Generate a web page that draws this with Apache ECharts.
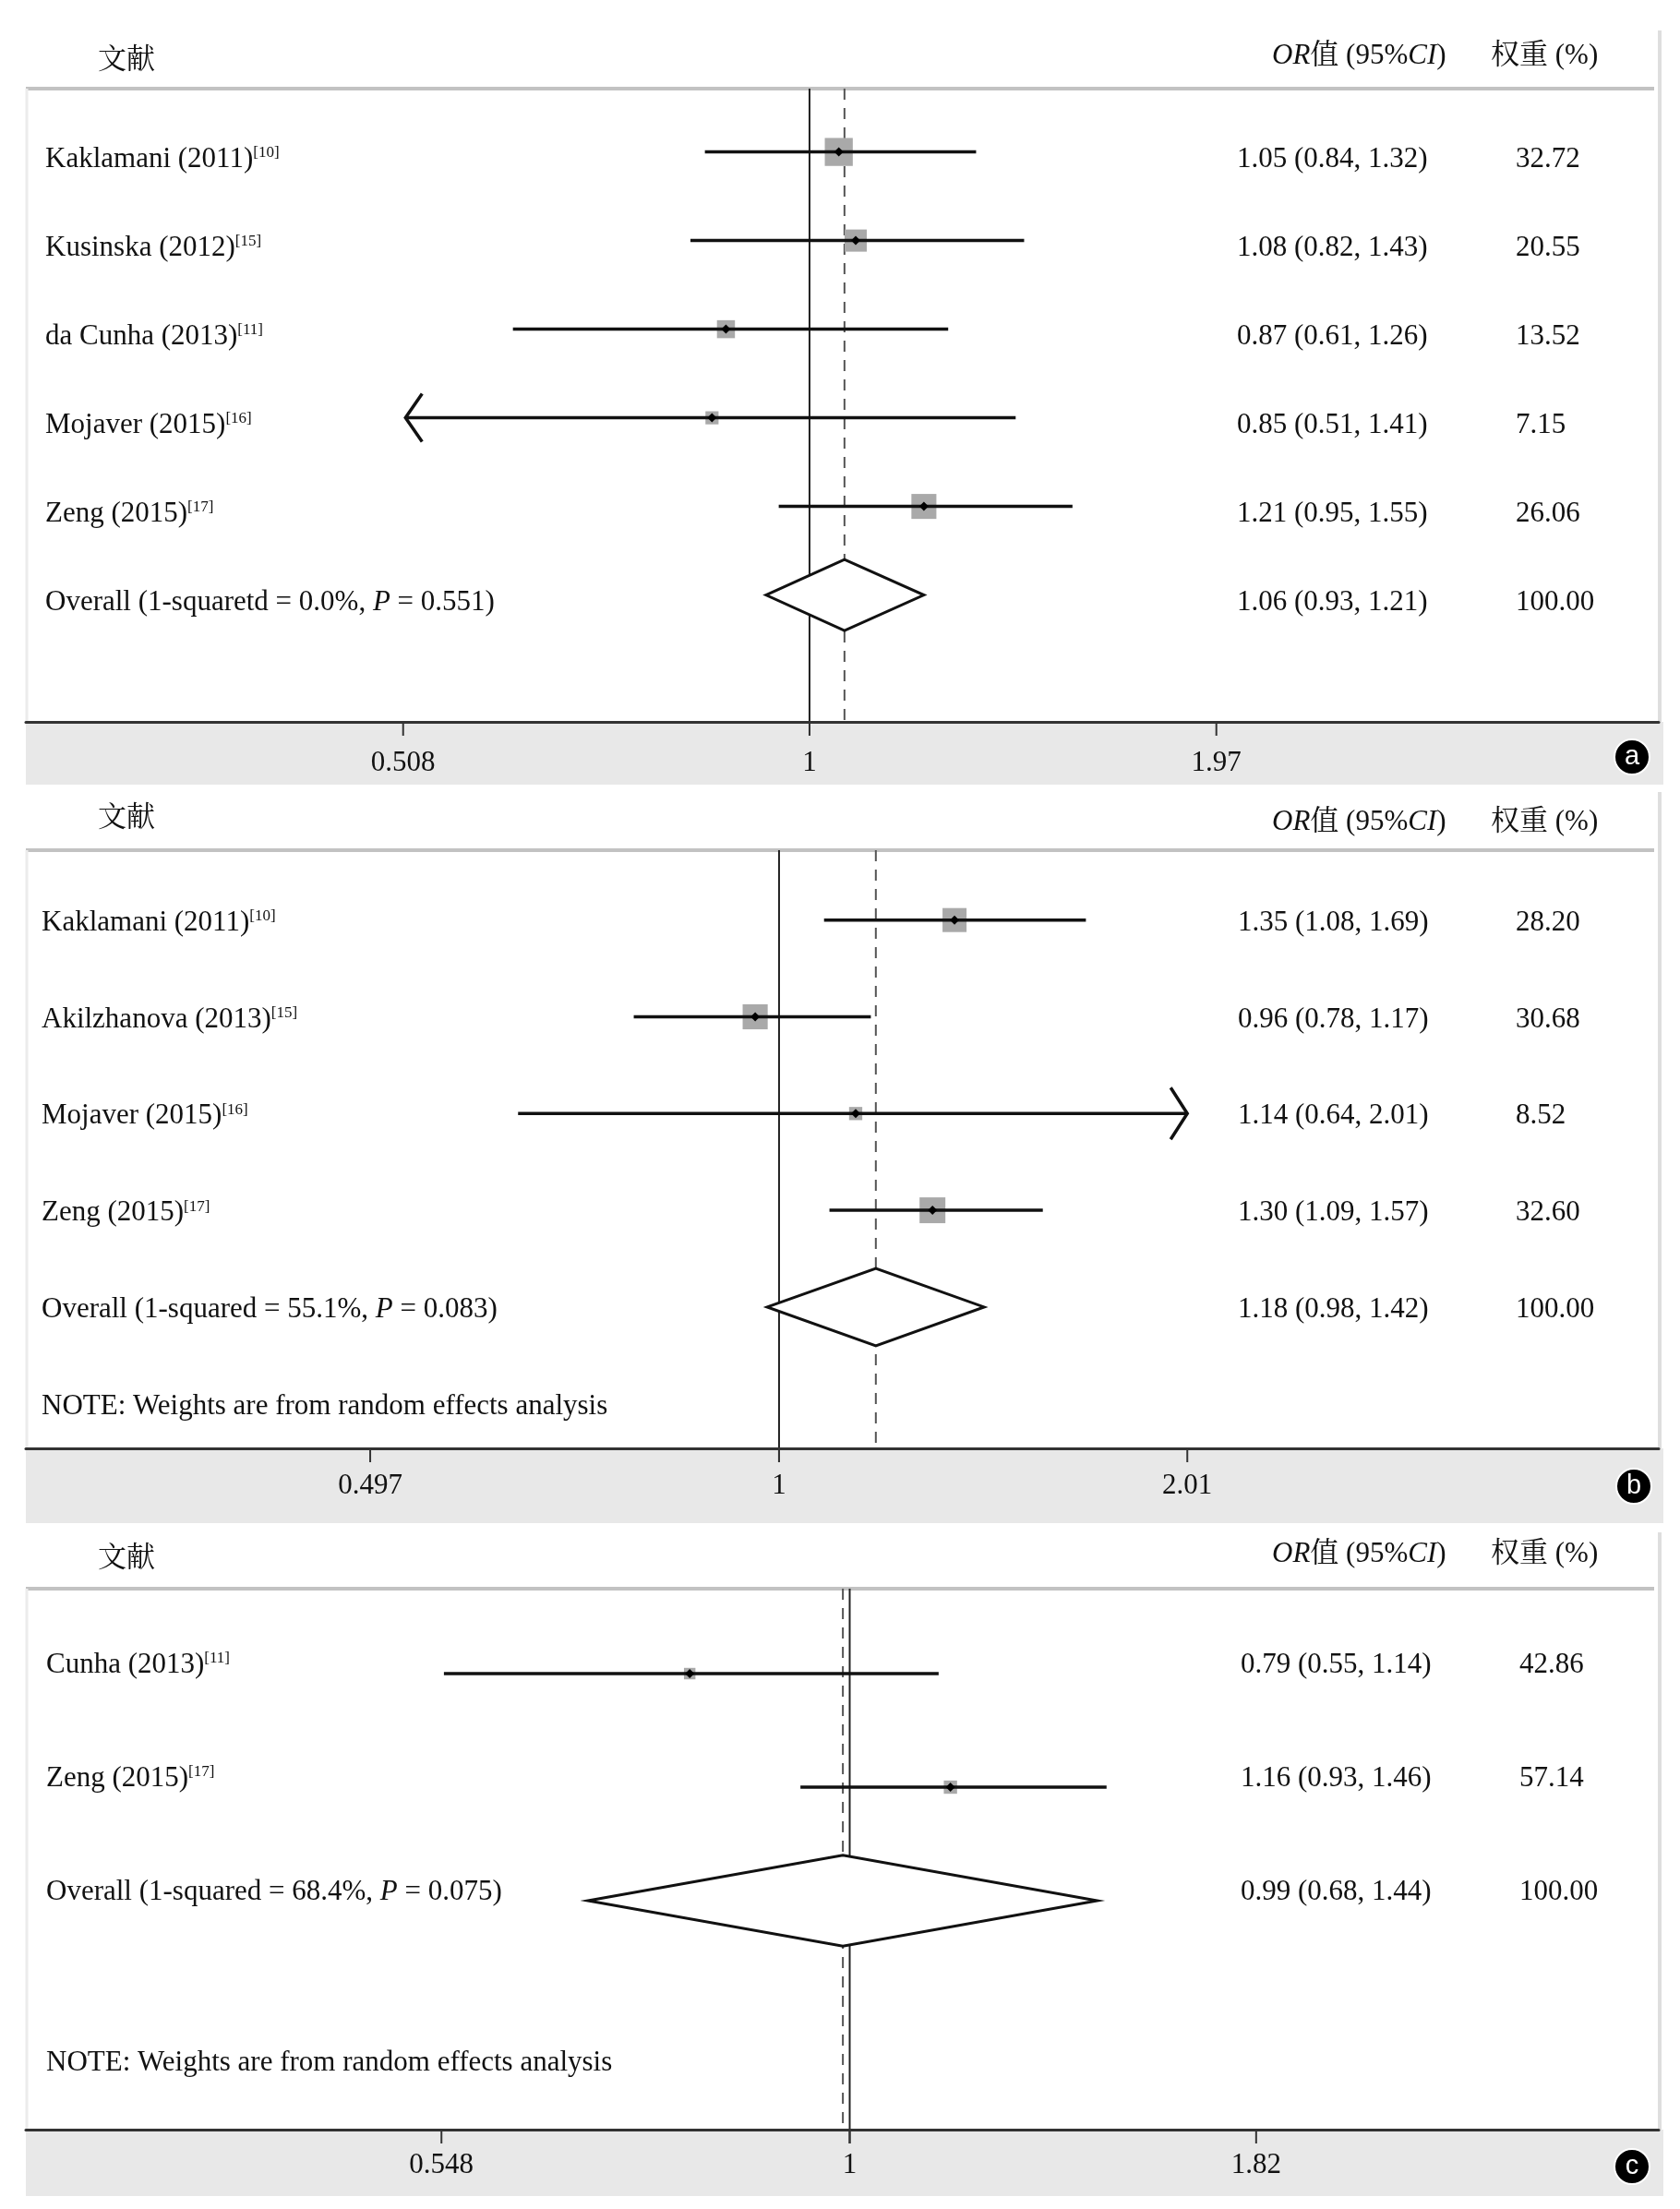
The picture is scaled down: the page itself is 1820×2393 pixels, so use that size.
<!DOCTYPE html>
<html>
<head>
<meta charset="utf-8">
<script src="https://cdn.jsdelivr.net/npm/echarts@6/dist/echarts.min.js"></script>
<style>html,body{margin:0;padding:0;background:#fff}#c{width:1820px;height:2393px}</style>
</head>
<body>
<div id="c"></div>
<script>
// ---------- Panel a ----------
const studiesA = ['Kaklamani (2011)', 'Kusinska (2012)', 'da Cunha (2013)', 'Mojaver (2015)', 'Zeng (2015)'];
const refsA = ['[10]', '[15]', '[11]', '[16]', '[17]'];
const orA = [1.05, 1.08, 0.87, 0.85, 1.21];
const loA = [0.84, 0.82, 0.61, 0.51, 0.95];
const hiA = [1.32, 1.43, 1.26, 1.41, 1.55];
const weightA = [32.72, 20.55, 13.52, 7.15, 26.06];
const arrowA = ['', '', '', 'left', ''];
const overallA = [1.06, 0.93, 1.21, 100.00];
const overallLabelA = 'Overall (1-squaretd = 0.0%, {i|P} = 0.551)';
const ticksA = [0.508, 1, 1.97];

// ---------- Panel b ----------
const studiesB = ['Kaklamani (2011)', 'Akilzhanova (2013)', 'Mojaver (2015)', 'Zeng (2015)'];
const refsB = ['[10]', '[15]', '[16]', '[17]'];
const orB = [1.35, 0.96, 1.14, 1.30];
const loB = [1.08, 0.78, 0.64, 1.09];
const hiB = [1.69, 1.17, 2.01, 1.57];
const weightB = [28.20, 30.68, 8.52, 32.60];
const arrowB = ['', '', 'right', ''];
const overallB = [1.18, 0.98, 1.42, 100.00];
const overallLabelB = 'Overall (1-squared = 55.1%, {i|P} = 0.083)';
const ticksB = [0.497, 1, 2.01];

// ---------- Panel c ----------
const studiesC = ['Cunha (2013)', 'Zeng (2015)'];
const refsC = ['[11]', '[17]'];
const orC = [0.79, 1.16];
const loC = [0.55, 0.93];
const hiC = [1.14, 1.46];
const weightC = [42.86, 57.14];
const arrowC = ['', ''];
const overallC = [0.99, 0.68, 1.44, 100.00];
const overallLabelC = 'Overall (1-squared = 68.4%, {i|P} = 0.075)';
const ticksC = [0.548, 1, 1.82];

const noteText = 'NOTE: Weights are from random effects analysis';
const headerLeft = '文献';
const headerOR = '{i|OR}值 (95%{i|CI})';
const headerW = '权重 (%)';

const panelsData = [
  {studies: studiesA, refs: refsA, or: orA, lo: loA, hi: hiA, w: weightA, arrow: arrowA, overall: overallA, overallLabel: overallLabelA, ticks: ticksA, note: false},
  {studies: studiesB, refs: refsB, or: orB, lo: loB, hi: hiB, w: weightB, arrow: arrowB, overall: overallB, overallLabel: overallLabelB, ticks: ticksB, note: true},
  {studies: studiesC, refs: refsC, or: orC, lo: loC, hi: hiC, w: weightC, arrow: arrowC, overall: overallC, overallLabel: overallLabelC, ticks: ticksC, note: true}
];

// layout (positions / styles only)
const layout = [
  {top: 96, axisY: 782, xMin: 0.27088, xMax: 4.1181, yMin: -0.7146, yMax: 6.431, dy: 8, labelX: 49, valX: 1340, wX: 1642, boxK: 5.3, hdrY: 66, hdrOrY: 61, borderTop: 33, bandBottom: 850, tickDy: 45, circle: [1768, 820], letter: 'a', noteRow: 0},
  {top: 921, axisY: 1569, xMin: 0.27582, xMax: 4.5013, yMin: -0.7223, yMax: 5.461, dy: 3, labelX: 45, valX: 1341, wX: 1642, boxK: 4.9, hdrY: 887, hdrOrY: 891, borderTop: 858, bandBottom: 1650, tickDy: 41, circle: [1770, 1610], letter: 'b', noteRow: 5},
  {top: 1721, axisY: 2307, xMin: 0.29707, xMax: 3.2937, yMin: -0.748, yMax: 4.016, dy: -9, labelX: 50, valX: 1344, wX: 1646, boxK: 1.9, hdrY: 1689, hdrOrY: 1684, borderTop: 1660, bandBottom: 2379, tickDy: 39, circle: [1768, 2347], letter: 'c', noteRow: 3.5}
];

const FONT = '"Liberation Serif", "Times New Roman", "Noto Serif CJK SC", "Noto Sans CJK SC", serif';
const FS = 31;
const INK = '#111';
const RICH = {
  sup: {fontSize: 17, fontFamily: FONT, fill: INK, color: INK, verticalAlign: 'top', lineHeight: 20},
  i: {fontSize: FS, fontFamily: FONT, fontStyle: 'italic', fill: INK, color: INK}
};
function txtStyle(text, align) {
  return {text: text, fontSize: FS, fontFamily: FONT, fill: INK, align: align || 'left', verticalAlign: 'middle', rich: RICH};
}
const fmt = v => v.toFixed(2);

const grids = [], xAxes = [], yAxes = [], series = [], graphics = [];

panelsData.forEach((d, i) => {
  const L = layout[i];
  grids.push({left: 28, right: 23, top: L.top, height: L.axisY - L.top, containLabel: false});
  xAxes.push({
    type: 'log', logBase: 10, gridIndex: i, min: L.xMin, max: L.xMax, z: 3,
    axisLine: {show: true, onZero: false, lineStyle: {color: '#333', width: 3}},
    axisTick: {show: false}, axisLabel: {show: false}, splitLine: {show: false}
  });
  yAxes.push({type: 'value', gridIndex: i, inverse: true, min: L.yMin, max: L.yMax, show: false, splitLine: {show: false}});

  const n = d.studies.length;

  // reference lines: null line at 1 (solid) and overall estimate (dashed)
  series.push({
    type: 'custom', xAxisIndex: i, yAxisIndex: i, clip: false, z: 1, silent: true,
    data: [[1, 0], [d.overall[0], 1]],
    renderItem: (params, api) => {
      const v = api.value(0), kind = api.value(1);
      const t = api.coord([v, L.yMin]), b = api.coord([v, L.yMax]);
      if (kind === 0) {
        return {type: 'line', shape: {x1: t[0], y1: t[1], x2: b[0], y2: b[1] + 15}, style: {stroke: '#222', lineWidth: 2}};
      }
      return {type: 'line', shape: {x1: t[0], y1: t[1], x2: b[0], y2: b[1]}, style: {stroke: '#555', lineWidth: 2, lineDash: [12, 9]}};
    }
  });

  // ticks + tick labels
  series.push({
    type: 'custom', xAxisIndex: i, yAxisIndex: i, clip: false, z: 4, silent: true,
    data: d.ticks.map(v => [v]),
    renderItem: (params, api) => {
      const v = api.value(0);
      const b = api.coord([v, L.yMax]);
      return {type: 'group', children: [
        {type: 'line', shape: {x1: b[0], y1: b[1], x2: b[0], y2: b[1] + 15}, style: {stroke: '#333', lineWidth: 2}},
        {type: 'text', x: b[0], y: b[1] + L.tickDy, style: txtStyle(String(d.ticks[params.dataIndex]), 'center')}
      ]};
    }
  });

  // study estimates: box, CI line, point, arrows
  series.push({
    type: 'custom', xAxisIndex: i, yAxisIndex: i, clip: false, z: 5, silent: true,
    data: d.or.map((v, j) => [j, v, d.lo[j], d.hi[j], d.w[j]]),
    renderItem: (params, api) => {
      const row = api.value(0);
      const p = api.coord([api.value(1), row]);
      const l = api.coord([api.value(2), row]);
      const h = api.coord([api.value(3), row]);
      const s = L.boxK * Math.sqrt(api.value(4));
      const children = [
        {type: 'rect', shape: {x: p[0] - s / 2, y: p[1] - s / 2, width: s, height: s}, style: {fill: '#a9a9a9'}},
        {type: 'line', shape: {x1: l[0], y1: l[1], x2: h[0], y2: h[1]}, style: {stroke: INK, lineWidth: 3.5}},
        {type: 'polygon', shape: {points: [[p[0] - 5, p[1]], [p[0], p[1] - 5], [p[0] + 5, p[1]], [p[0], p[1] + 5]]}, style: {fill: '#000'}}
      ];
      const a = d.arrow[params.dataIndex];
      if (a === 'left') {
        children.push({type: 'polyline', shape: {points: [[l[0] + 18, l[1] - 26], [l[0], l[1]], [l[0] + 18, l[1] + 26]]}, style: {stroke: INK, lineWidth: 3.5, fill: null}});
      } else if (a === 'right') {
        children.push({type: 'polyline', shape: {points: [[h[0] - 18, h[1] - 28], [h[0], h[1]], [h[0] - 18, h[1] + 28]]}, style: {stroke: INK, lineWidth: 3.5, fill: null}});
      }
      return {type: 'group', children: children};
    }
  });

  // overall diamond
  series.push({
    type: 'custom', xAxisIndex: i, yAxisIndex: i, clip: false, z: 5, silent: true,
    data: [[n, d.overall[0], d.overall[1], d.overall[2]]],
    renderItem: (params, api) => {
      const row = api.value(0), hh = 0.4;
      const pts = [
        api.coord([api.value(2), row]),
        api.coord([api.value(1), row - hh]),
        api.coord([api.value(3), row]),
        api.coord([api.value(1), row + hh])
      ];
      return {type: 'polygon', shape: {points: pts}, style: {fill: '#fff', stroke: INK, lineWidth: 3}};
    }
  });

  // row texts (study name, OR (95% CI), weight)
  const textRows = d.studies.map((s, j) => [j, j]);
  textRows.push([n, -1]);
  if (d.note) textRows.push([L.noteRow, -2]);
  series.push({
    type: 'custom', xAxisIndex: i, yAxisIndex: i, clip: false, z: 6, silent: true,
    data: textRows,
    renderItem: (params, api) => {
      const row = api.value(0), j = api.value(1);
      const y = api.coord([1, row])[1] + L.dy;
      if (j === -2) {
        return {type: 'text', x: L.labelX, y: y, style: txtStyle(noteText)};
      }
      let label, vals, w;
      if (j === -1) {
        label = d.overallLabel;
        vals = fmt(d.overall[0]) + ' (' + fmt(d.overall[1]) + ', ' + fmt(d.overall[2]) + ')';
        w = fmt(d.overall[3]);
      } else {
        label = d.studies[j] + '{sup|' + d.refs[j] + '}';
        vals = fmt(d.or[j]) + ' (' + fmt(d.lo[j]) + ', ' + fmt(d.hi[j]) + ')';
        w = fmt(d.w[j]);
      }
      return {type: 'group', children: [
        {type: 'text', x: L.labelX, y: y, style: txtStyle(label)},
        {type: 'text', x: L.valX, y: y, style: txtStyle(vals)},
        {type: 'text', x: L.wX, y: y, style: txtStyle(w)}
      ]};
    }
  });

  // decorations: band, header line, borders, headers, panel letter
  graphics.push(
    {type: 'rect', z: 0, silent: true, shape: {x: 28, y: L.axisY, width: 1774, height: L.bandBottom - L.axisY}, style: {fill: '#e8e8e8'}},
    {type: 'line', z: 1, silent: true, shape: {x1: 28, y1: L.top, x2: 1792, y2: L.top}, style: {stroke: '#c2c2c2', lineWidth: 4}},
    {type: 'line', z: 1, silent: true, shape: {x1: 29, y1: L.top, x2: 29, y2: L.axisY}, style: {stroke: '#ececec', lineWidth: 3}},
    {type: 'line', z: 1, silent: true, shape: {x1: 1798, y1: L.borderTop, x2: 1798, y2: L.axisY}, style: {stroke: '#dedede', lineWidth: 4}},
    {type: 'text', z: 6, silent: true, x: 106, y: L.hdrY, style: txtStyle(headerLeft)},
    {type: 'text', z: 6, silent: true, x: 1378, y: L.hdrOrY, style: txtStyle(headerOR)},
    {type: 'text', z: 6, silent: true, x: 1615, y: L.hdrOrY, style: txtStyle(headerW)},
    {type: 'circle', z: 6, silent: true, shape: {cx: L.circle[0], cy: L.circle[1], r: 19}, style: {fill: '#000', stroke: '#fff', lineWidth: 2}},
    {type: 'text', z: 7, silent: true, x: L.circle[0], y: L.circle[1], style: {text: L.letter, fontSize: 29, fontFamily: '"Liberation Sans", Arial, sans-serif', fill: '#fff', align: 'center', verticalAlign: 'middle'}}
  );
});

const chart = echarts.init(document.getElementById('c'), null, {renderer: 'canvas'});
chart.setOption({
  animation: false,
  backgroundColor: '#fff',
  grid: grids,
  xAxis: xAxes,
  yAxis: yAxes,
  series: series,
  graphic: {elements: graphics}
});
</script>
</body>
</html>
